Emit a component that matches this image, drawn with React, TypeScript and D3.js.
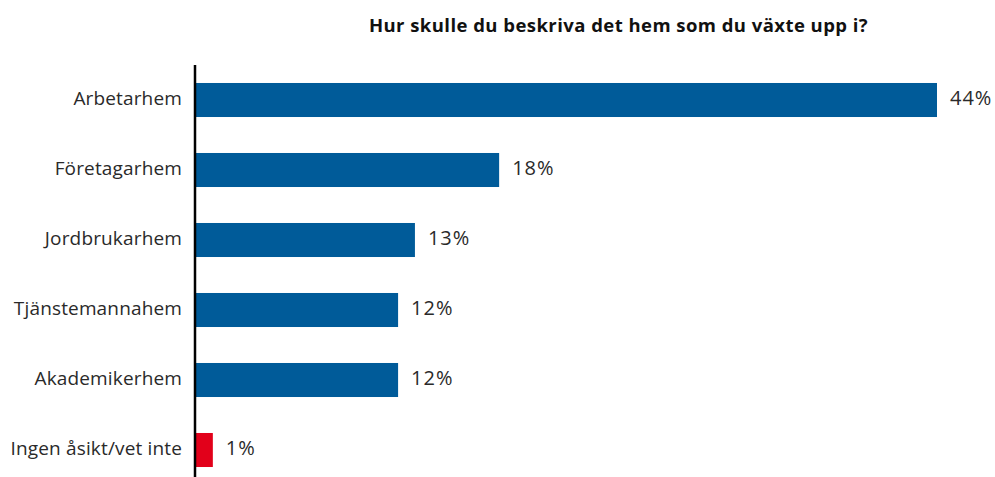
import React from "react";
import * as d3 from "d3";

const title = "Hur skulle du beskriva det hem som du växte upp i?";
const categories = [
  "Arbetarhem",
  "Företagarhem",
  "Jordbrukarhem",
  "Tjänstemannahem",
  "Akademikerhem",
  "Ingen åsikt/vet inte",
];
const values = [44, 18, 13, 12, 12, 1];
const colors = ["#005b99", "#005b99", "#005b99", "#005b99", "#005b99", "#e2001a"];

const W = 995;
const H = 477;
const FONT = "'Open Sans', 'Noto Sans', sans-serif";

export default function App() {
  const x = d3.scaleLinear().domain([0, 44]).range([196, 937]);
  const y = d3
    .scaleBand<string>()
    .domain(categories)
    .range([65, 485])
    .paddingInner(0.514)
    .paddingOuter(0.257);

  return (
    <svg
      width={W}
      height={H}
      style={{ position: "absolute", left: 0, top: 0, background: "#fff" }}
      fontFamily={FONT}
    >
      <text
        x={618.5}
        y={32}
        textAnchor="middle"
        fontSize={18.5}
        fontWeight={700}
        letterSpacing={0.45}
        fill="#111"
      >
        {title}
      </text>
      {categories.map((c, i) => {
        const yy = y(c)!;
        const bw = y.bandwidth();
        return (
          <g key={c}>
            <rect x={x(0)} y={yy} width={x(values[i]) - x(0)} height={bw} fill={colors[i]} />
            <text
              x={182}
              y={yy + bw / 2}
              dy="0.25em"
              textAnchor="end"
              fontSize={19}
              letterSpacing={0.15}
              fill="#2a2a2a"
            >
              {c}
            </text>
            <text
              x={x(values[i]) + 13}
              y={yy + bw / 2}
              dy="0.25em"
              fontSize={20}
              letterSpacing={1}
              fill="#2a2a2a"
            >
              {values[i] + "%"}
            </text>
          </g>
        );
      })}
      <line x1={195} x2={195} y1={65} y2={H} stroke="#000" strokeWidth={2.5} />
    </svg>
  );
}
